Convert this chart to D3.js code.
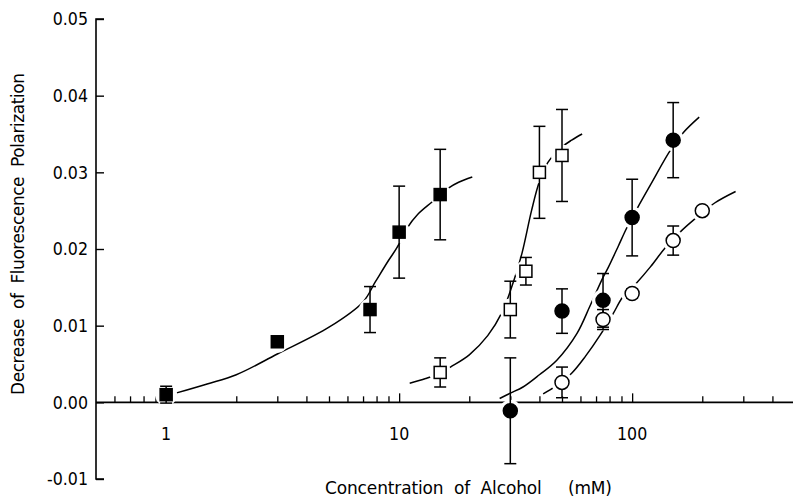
<!DOCTYPE html>
<html><head><meta charset="utf-8">
<script src="https://cdn.jsdelivr.net/npm/d3@7"></script>
<style>
html,body{margin:0;padding:0;background:#fff;}
svg{display:block;}
text{font-family:"DejaVu Sans",sans-serif;fill:#000;}
</style></head>
<body>
<svg id="chart" width="793" height="499"></svg>
<script>
// ---- Data ----
const xTickLabels = ["1", "10", "100"];
const xTickValues = [1, 10, 100];
const yTickValues = [-0.01, 0.00, 0.01, 0.02, 0.03, 0.04, 0.05];
const yTickLabels = ["-0.01", "0.00", "0.01", "0.02", "0.03", "0.04", "0.05"];

// filled squares
const sqFilledConc = [1, 3, 7.5, 10, 15];
const sqFilledVal  = [0.0010, 0.0079, 0.0121, 0.0222, 0.0271];
const sqFilledErr  = [0.0011, 0.0005, 0.0030, 0.0060, 0.0059];
// open squares
const sqOpenConc = [15, 30, 35, 40, 50];
const sqOpenVal  = [0.0039, 0.0121, 0.0171, 0.0300, 0.0322];
const sqOpenErr  = [0.0019, 0.0037, 0.0018, 0.0060, 0.0060];
// filled circles
const ciFilledConc = [30, 50, 75, 100, 150];
const ciFilledVal  = [-0.0011, 0.0119, 0.0133, 0.0241, 0.0342];
const ciFilledErr  = [0.0069, 0.0029, 0.0035, 0.0050, 0.0049];
// open circles
const ciOpenConc = [50, 75, 100, 150, 200];
const ciOpenVal  = [0.0026, 0.0108, 0.0142, 0.0211, 0.0250];
const ciOpenErr  = [0.0020, 0.0013, 0.0006, 0.0019, 0.0000];

// fitted curves
const curveAConc = [1.1, 1.5, 2, 3, 5, 7, 7.9, 9, 9.8, 10.8, 12, 13.8, 16.4, 18, 20.6];
const curveAVal  = [0.0012, 0.0024, 0.0036, 0.0063, 0.0098, 0.0131, 0.0157, 0.0185, 0.0202, 0.0227, 0.0245, 0.0261, 0.0280, 0.0287, 0.0294];
const curveBConc = [11.1, 13, 15, 16.6, 20, 24, 27.6, 31, 33.7, 37, 40, 43.5, 50, 55, 61];
const curveBVal  = [0.0025, 0.0031, 0.0038, 0.0046, 0.0062, 0.0087, 0.0117, 0.0158, 0.0195, 0.0250, 0.0288, 0.0313, 0.0333, 0.0342, 0.0350];
const curveCConc = [27, 30, 34, 40, 47.5, 58, 66, 75, 79, 87, 95, 106, 120, 146, 166, 194];
const curveCVal  = [0.0005, 0.0012, 0.0020, 0.0036, 0.0055, 0.0090, 0.0126, 0.0163, 0.0176, 0.0203, 0.0228, 0.0255, 0.0284, 0.0329, 0.0352, 0.0372];
const curveDConc = [41.5, 47, 55, 63, 73, 83, 91, 104, 120, 139, 163, 187, 226, 278];
const curveDVal  = [0.0011, 0.0021, 0.0038, 0.0060, 0.0088, 0.0116, 0.0137, 0.0155, 0.0177, 0.0202, 0.0224, 0.0240, 0.0260, 0.0275];

const xTitle = "Concentration  of  Alcohol     (mM)";
const yTitle = "Decrease  of  Fluorescence  Polarization";

// ---- Drawing ----
const svg = d3.select("#chart");
const x = d3.scaleLog().domain([0.5, 500]).range([96, 795]);
const y = d3.scaleLinear().domain([-0.01, 0.05]).range([479, 19]);
const zip = (a, b, c) => a.map((v, i) => ({x: v, y: b[i], e: c ? c[i] : 0}));
// condense a label horizontally (the figure's lettering is narrow)
const condense = (sel, k) => sel.each(function () {
  const w = this.getComputedTextLength();
  d3.select(this).attr("textLength", w * k).attr("lengthAdjust", "spacingAndGlyphs");
});

// axes
const yAxis = d3.axisRight(y).tickValues(yTickValues).tickSize(8).tickFormat("");
const gy = svg.append("g").attr("transform", `translate(${x(0.5)},0)`).call(yAxis);
gy.select(".domain").attr("d", `M8,${y(0.05)}H0V${y(-0.01)}H8`).attr("stroke-width", 1.6);
gy.selectAll(".tick line").attr("stroke-width", 1.4);
svg.append("g").selectAll("text").data(yTickValues).join("text")
  .attr("x", 88).attr("y", d => y(d)).attr("dy", "0.36em")
  .attr("text-anchor", "end").attr("font-size", 18)
  .text((d, i) => yTickLabels[i]).call(condense, 0.88);

const minorTicks = [];
[0.1, 1, 10, 100].forEach(dec => { for (let k = 2; k <= 9; k++) { const v = dec * k; if (v > 0.5 && v < 500) minorTicks.push(v); } });
const gx = svg.append("g").attr("transform", `translate(0,${y(0)})`);
gx.append("line").attr("x1", x(0.5)).attr("x2", 793).attr("stroke", "#000").attr("stroke-width", 1.6);
gx.call(g => g.append("g").call(d3.axisTop(x).tickValues(minorTicks).tickSize(6).tickFormat("")))
  .call(g => g.append("g").call(d3.axisTop(x).tickValues(xTickValues).tickSize(9).tickFormat("")));
gx.selectAll(".domain").remove();
gx.selectAll(".tick line").attr("stroke-width", 1.3);
svg.append("g").selectAll("text").data(xTickValues).join("text")
  .attr("x", d => x(d)).attr("y", 440).attr("text-anchor", "middle").attr("font-size", 18)
  .text((d, i) => xTickLabels[i]).call(condense, 0.88);

// titles
svg.append("text").attr("x", 325).attr("y", 494).attr("font-size", 17)
  .attr("textLength", 287).attr("lengthAdjust", "spacing").style("white-space", "pre").text(xTitle);
svg.append("text").attr("transform", "translate(24,395) rotate(-90)").attr("font-size", 17)
  .attr("textLength", 322).attr("lengthAdjust", "spacing").style("white-space", "pre").text(yTitle);

// curves
const line = d3.line().x(d => x(d.x)).y(d => y(d.y)).curve(d3.curveCatmullRom);
[[curveAConc, curveAVal], [curveBConc, curveBVal], [curveCConc, curveCVal], [curveDConc, curveDVal]].forEach(([c, v]) => {
  svg.append("path").datum(zip(c, v)).attr("d", line).attr("fill", "none").attr("stroke", "#000").attr("stroke-width", 1.5);
});

const series = [
  {pts: zip(sqFilledConc, sqFilledVal, sqFilledErr), shape: "square", fill: "#000"},
  {pts: zip(sqOpenConc, sqOpenVal, sqOpenErr), shape: "square", fill: "#fff"},
  {pts: zip(ciFilledConc, ciFilledVal, ciFilledErr), shape: "circle", fill: "#000"},
  {pts: zip(ciOpenConc, ciOpenVal, ciOpenErr), shape: "circle", fill: "#fff"}
];
// white halos to give gaps in the curves
const halo = svg.append("g");
series.forEach(s => {
  halo.selectAll(null).data(s.pts).join("circle")
    .attr("cx", d => x(d.x)).attr("cy", d => y(d.y)).attr("r", 11).attr("fill", "#fff");
});
// error bars
const eg = svg.append("g").attr("stroke", "#000").attr("stroke-width", 1.5);
series.forEach(s => {
  s.pts.filter(d => d.e > 0).forEach(d => {
    const cx = x(d.x), t = y(d.y + d.e), b = y(d.y - d.e);
    eg.append("line").attr("x1", cx).attr("x2", cx).attr("y1", t).attr("y2", b);
    eg.append("line").attr("x1", cx - 6).attr("x2", cx + 6).attr("y1", t).attr("y2", t);
    eg.append("line").attr("x1", cx - 6).attr("x2", cx + 6).attr("y1", b).attr("y2", b);
  });
});
// markers
series.forEach(s => {
  const g = svg.append("g");
  if (s.shape === "square") {
    g.selectAll("rect").data(s.pts).join("rect")
      .attr("x", d => x(d.x) - 6).attr("y", d => y(d.y) - 6).attr("width", 12).attr("height", 12)
      .attr("fill", s.fill).attr("stroke", "#000").attr("stroke-width", 1.5);
  } else {
    g.selectAll("circle").data(s.pts).join("circle")
      .attr("cx", d => x(d.x)).attr("cy", d => y(d.y)).attr("r", 7)
      .attr("fill", s.fill).attr("stroke", "#000").attr("stroke-width", 1.5);
  }
});
</script>
</body></html>
